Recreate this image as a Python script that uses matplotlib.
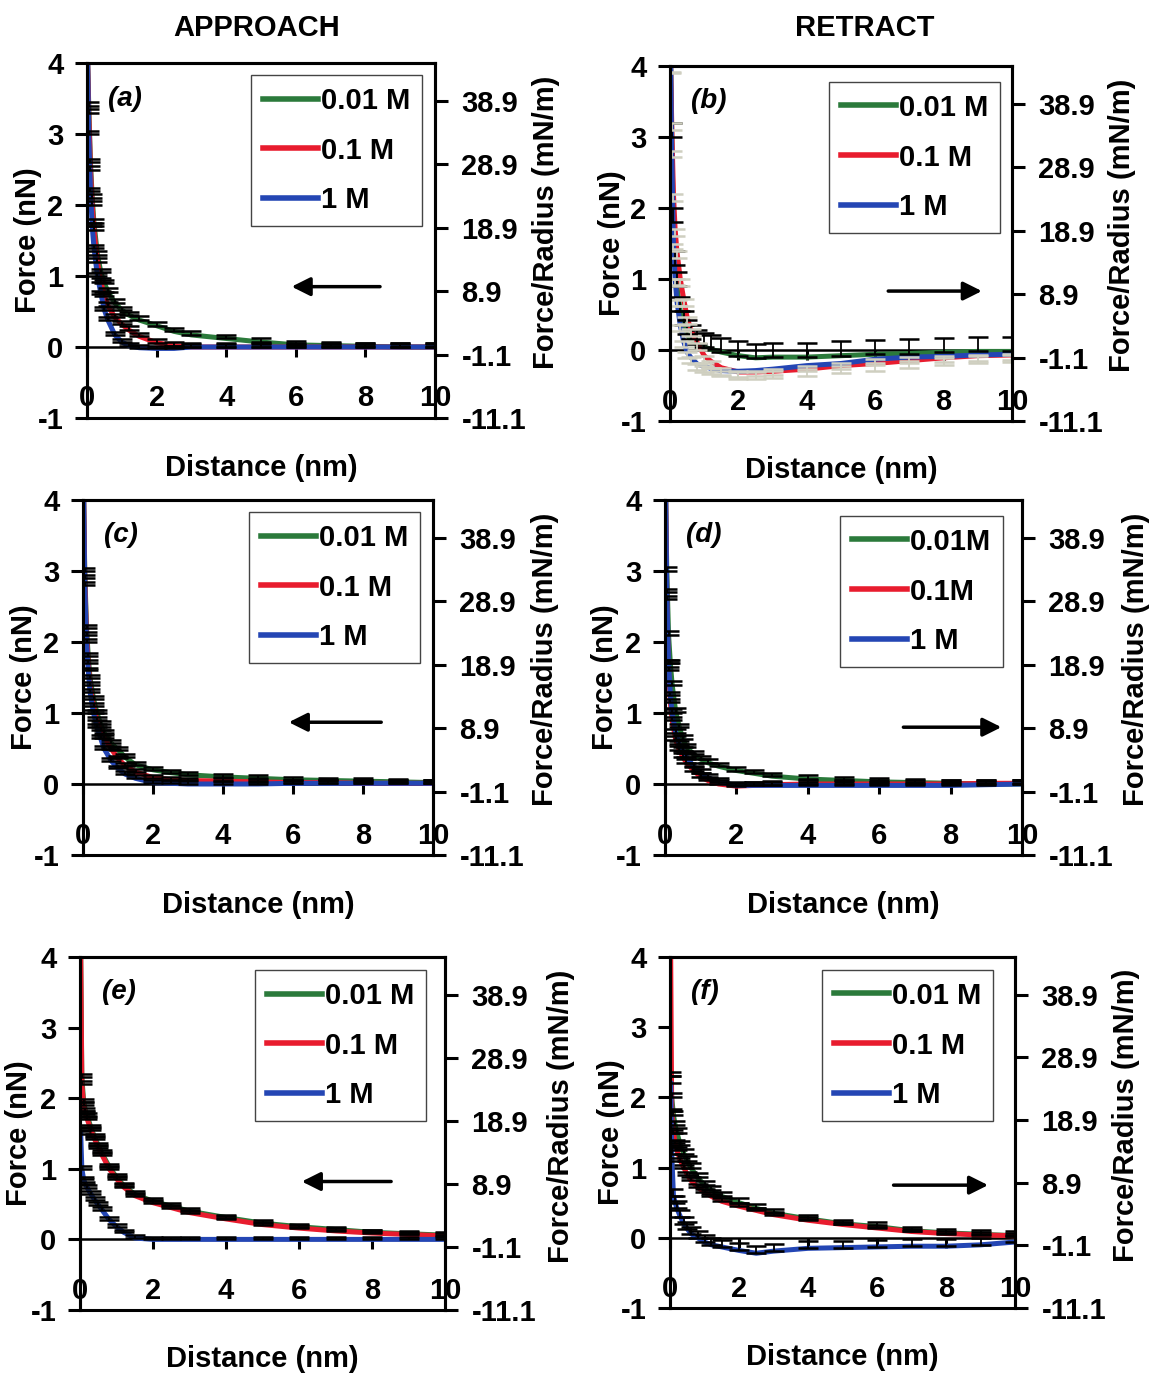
import matplotlib
matplotlib.use('Agg')
import matplotlib.pyplot as plt

plt.rcParams['font.family'] = ['Liberation Sans', 'DejaVu Sans']
plt.rcParams['font.weight'] = 'bold'
plt.rcParams['font.size'] = 21
plt.rcParams['axes.unicode_minus'] = False

# distance grid (nm), shared by every curve
dist = [0.02, 0.05, 0.1, 0.15, 0.2, 0.3, 0.4, 0.5, 0.6, 0.8, 1.0, 1.2, 1.5,
        2.0, 2.5, 3.0, 4.0, 5.0, 6.0, 7.0, 8.0, 9.0, 10.0]

# force (nN): 0.01 M, 0.1 M, 1 M
a_001 = [4.0, 3.4, 2.6, 2.1, 1.75, 1.3, 1.05, 0.9, 0.78, 0.62, 0.52, 0.45, 0.38, 0.3, 0.22, 0.17, 0.12, 0.07, 0.03, 0.02, 0.01, 0.0, 0.0]
a_01 = [4.0, 3.3, 2.5, 2.0, 1.65, 1.2, 0.92, 0.72, 0.58, 0.42, 0.32, 0.24, 0.15, 0.06, 0.02, 0.0, 0.0, 0.0, 0.0, 0.0, 0.0, 0.0, 0.0]
a_1 = [4.0, 3.0, 2.2, 1.7, 1.4, 1.0, 0.75, 0.52, 0.38, 0.17, 0.07, 0.02, -0.01, -0.02, -0.02, 0.0, 0.0, 0.0, 0.0, 0.0, 0.0, 0.0, 0.0]

b_001 = [4.0, 3.0, 1.8, 1.2, 0.9, 0.55, 0.35, 0.22, 0.15, 0.08, 0.04, 0.01, -0.03, -0.08, -0.11, -0.1, -0.1, -0.08, -0.06, -0.05, -0.03, -0.02, -0.02]
b_01 = [4.0, 3.2, 2.2, 1.7, 1.4, 1.0, 0.72, 0.46, 0.3, 0.1, -0.08, -0.16, -0.25, -0.31, -0.31, -0.3, -0.27, -0.22, -0.19, -0.15, -0.11, -0.08, -0.07]
b_1 = [4.0, 2.8, 1.5, 1.0, 0.7, 0.35, 0.12, -0.03, -0.1, -0.2, -0.23, -0.26, -0.29, -0.3, -0.29, -0.27, -0.22, -0.19, -0.13, -0.1, -0.09, -0.07, -0.06]

c_001 = [4.0, 3.0, 2.2, 1.8, 1.5, 1.2, 1.0, 0.85, 0.72, 0.58, 0.48, 0.38, 0.27, 0.2, 0.16, 0.13, 0.1, 0.08, 0.06, 0.05, 0.04, 0.03, 0.02]
c_01 = [4.0, 2.9, 2.1, 1.7, 1.4, 1.1, 0.9, 0.76, 0.65, 0.5, 0.36, 0.26, 0.17, 0.09, 0.06, 0.05, 0.04, 0.03, 0.02, 0.02, 0.01, 0.01, 0.01]
c_1 = [4.0, 2.8, 2.0, 1.6, 1.3, 1.0, 0.8, 0.65, 0.5, 0.33, 0.22, 0.14, 0.08, 0.02, 0.01, 0.0, 0.0, 0.0, 0.01, 0.01, 0.01, 0.01, 0.01]

d_001 = [4.0, 3.0, 2.1, 1.7, 1.4, 1.02, 0.8, 0.64, 0.52, 0.42, 0.35, 0.3, 0.25, 0.19, 0.15, 0.11, 0.07, 0.05, 0.03, 0.02, 0.01, 0.0, 0.0]
d_01 = [4.0, 2.6, 1.6, 1.15, 0.9, 0.62, 0.48, 0.38, 0.3, 0.19, 0.1, 0.05, 0.0, -0.03, -0.02, -0.01, 0.0, 0.0, 0.0, 0.0, 0.0, 0.01, 0.01]
d_1 = [4.0, 2.7, 1.7, 1.25, 1.0, 0.72, 0.56, 0.47, 0.38, 0.25, 0.16, 0.09, 0.03, -0.02, -0.02, -0.02, -0.02, -0.02, -0.02, -0.02, -0.02, -0.01, 0.0]

e_001 = [4.0, 2.3, 1.95, 1.82, 1.75, 1.58, 1.45, 1.33, 1.22, 1.03, 0.88, 0.76, 0.64, 0.54, 0.47, 0.4, 0.31, 0.23, 0.18, 0.14, 0.1, 0.08, 0.06]
e_01 = [4.0, 2.2, 1.9, 1.78, 1.7, 1.55, 1.42, 1.3, 1.2, 1.0, 0.86, 0.74, 0.62, 0.52, 0.45, 0.38, 0.29, 0.21, 0.16, 0.12, 0.09, 0.07, 0.05]
e_1 = [1.5, 1.0, 0.85, 0.78, 0.73, 0.64, 0.56, 0.49, 0.42, 0.28, 0.18, 0.1, 0.02, 0.0, 0.0, 0.0, 0.0, 0.0, 0.0, 0.0, 0.0, 0.0, 0.0]

f_001 = [2.3, 2.0, 1.75, 1.6, 1.5, 1.32, 1.2, 1.1, 1.0, 0.86, 0.75, 0.68, 0.59, 0.5, 0.42, 0.35, 0.27, 0.2, 0.16, 0.1, 0.07, 0.05, 0.03]
f_01 = [4.0, 1.8, 1.5, 1.35, 1.25, 1.1, 1.0, 0.9, 0.82, 0.72, 0.65, 0.59, 0.52, 0.45, 0.39, 0.33, 0.25, 0.19, 0.14, 0.09, 0.06, 0.04, 0.03]
f_1 = [2.2, 1.2, 0.6, 0.5, 0.42, 0.3, 0.2, 0.13, 0.06, 0.0, -0.06, -0.1, -0.13, -0.18, -0.22, -0.19, -0.15, -0.14, -0.13, -0.12, -0.12, -0.1, -0.06]

# error bar size (nN) per series; negative = drawn downward
err_a = [0.05, 0.05, 0.04]
err_b = [0.2, -0.1, -0.08]
err_c = [0.04, 0.04, 0.04]
err_d = [0.05, 0.05, 0.05]
err_e = [0.04, 0.04, 0.04]
err_f = [0.06, 0.04, 0.1]

labels_std = ['0.01 M', '0.1 M', '1 M']
labels_d = ['0.01M', '0.1M', '1 M']

force_ticks = [-1, 0, 1, 2, 3, 4]
fr_ticks = [-11.1, -1.1, 8.9, 18.9, 28.9, 38.9]
dist_ticks = [0, 2, 4, 6, 8, 10]

colors = ['#2b7a3b', '#e81c2e', '#2446b4']

panels = [
    # tag, series, errors, legend labels, box px (L, R, T, B), legend anchor, arrow (x0, x1, y)
    ('(a)', [a_001, a_01, a_1], err_a, labels_std, (87, 435, 63, 418), (0.963, 0.966), (8.5, 5.8, 0.85)),
    ('(b)', [b_001, b_01, b_1], err_b, labels_std, (670, 1012, 66, 421), (0.965, 0.955), (6.3, 9.2, 0.83)),
    ('(c)', [c_001, c_01, c_1], err_c, labels_std, (83, 433, 500, 855), (0.963, 0.966), (8.6, 5.8, 0.87)),
    ('(d)', [d_001, d_01, d_1], err_d, labels_d, (665, 1022, 500, 855), (0.947, 0.955), (6.6, 9.5, 0.80)),
    ('(e)', [e_001, e_01, e_1], err_e, labels_std, (80, 445, 957, 1310), (0.948, 0.963), (8.6, 6.0, 0.82)),
    ('(f)', [f_001, f_01, f_1], err_f, labels_std, (670, 1015, 957, 1308), (0.936, 0.963), (6.4, 9.3, 0.75)),
]

W, H = 1152, 1376
fig = plt.figure(figsize=(W / 100, H / 100), dpi=100)

for tag, series, errs, labs, (L, R, T, B), anchor, arrow in panels:
    ax = fig.add_axes([L / W, 1 - B / H, (R - L) / W, (B - T) / H])
    handles = []
    for ys, col, lab in zip(series, colors, labs):
        ln, = ax.plot(dist, ys, color=col, lw=3.6, label=lab, zorder=3,
                      solid_joinstyle='round')
        handles.append(ln)
    for ys, e in zip(series, errs):
        zeros = [0] * len(ys)
        if e >= 0:
            yerr = [zeros, [e] * len(ys)]
            ecol = 'black'
        else:
            yerr = [[-e] * len(ys), zeros]
            ecol = '#cfcfc0'
        ax.errorbar(dist, ys, yerr=yerr, fmt='none', ecolor=ecol, elinewidth=1.3,
                    capsize=7, capthick=1.8, zorder=4)

    ax.set_xlim(0, 10)
    ax.set_ylim(-1, 4)
    ax.set_xticks(dist_ticks)
    ax.set_yticks(force_ticks)
    ax.spines['bottom'].set_position(('data', 0))
    ax.spines['bottom'].set_linewidth(1.8)
    for s in ['left', 'top', 'right']:
        ax.spines[s].set_linewidth(2.2)
    ax.axhline(-1, color='black', lw=2.2, clip_on=False, zorder=5)
    ax.tick_params(axis='x', direction='out', length=7, width=2.2, pad=20)
    ax.tick_params(axis='y', direction='out', length=9, width=2.2, pad=8)
    ax.set_xlabel('Distance (nm)', fontweight='bold')
    ax.xaxis.set_label_coords(0.5, -0.10)
    ax.set_ylabel('Force (nN)', fontweight='bold')
    ax.yaxis.set_label_coords(-0.13, 0.5)

    ax2 = ax.twinx()
    ax2.set_ylim(-11.1, 44.9)
    ax2.set_yticks(fr_ticks)
    ax2.set_yticklabels(['%.1f' % v for v in fr_ticks])
    ax2.tick_params(axis='y', direction='out', length=9, width=2.2, pad=10)
    for s in ax2.spines.values():
        s.set_linewidth(2.2)
    ax2.spines['bottom'].set_visible(False)
    ax2.set_ylabel('Force/Radius (mN/m)', fontweight='bold')
    ax2.yaxis.set_label_coords(1.28, 0.55)

    ax.text(0.6, 3.5, tag, style='italic', fontweight='bold', fontsize=20,
            ha='left', va='center', zorder=6)
    ax.annotate('', xy=(arrow[1], arrow[2]), xytext=(arrow[0], arrow[2]),
                arrowprops=dict(arrowstyle='-|>', color='black', lw=2.5,
                                mutation_scale=28))

    leg = ax2.legend(handles=handles, loc='upper right', bbox_to_anchor=anchor,
                     borderaxespad=0, fancybox=False, framealpha=1,
                     edgecolor='#444444', handlelength=1.9, handletextpad=0.1,
                     labelspacing=0.75, borderpad=0.4, fontsize=21)
    leg.get_frame().set_linewidth(1.0)
    for lh in leg.get_lines():
        lh.set_linewidth(4)

fig.text(257 / W, 1 - 28 / H, 'APPROACH', ha='center', va='center',
         fontweight='bold', fontsize=21)
fig.text(865 / W, 1 - 28 / H, 'RETRACT', ha='center', va='center',
         fontweight='bold', fontsize=21)

plt.savefig('out.png', dpi=100)
